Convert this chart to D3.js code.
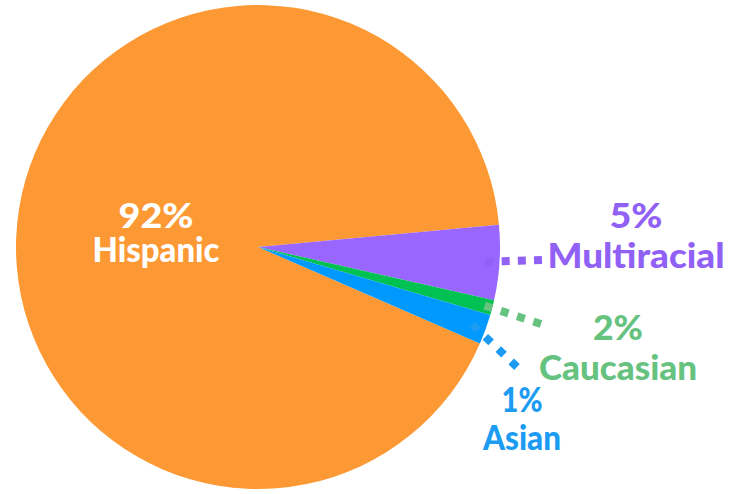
<!DOCTYPE html>
<html>
<head>
<meta charset="utf-8">
<script src="https://cdn.jsdelivr.net/npm/d3@7"></script>
<style>
  html, body { margin: 0; padding: 0; background: #fff; }
  svg { display: block; }
  text { font-family: "Lato", "Open Sans", sans-serif; font-weight: 900; }
</style>
</head>
<body>
<svg id="chart" width="732" height="494"></svg>
<script>
// ---- data ----
const categories = ["Hispanic", "Multiracial", "Caucasian", "Asian"];
const values = [92, 5, 1, 2];              // slice sizes as drawn
const labelPercents = ["92%", "5%", "2%", "1%"]; // label text as printed
const sliceColors = ["#fd9934", "#9966ff", "#00c152", "#0099ff"];
const textColors = ["#ffffff", "#9161f5", "#66c27f", "#1b9cf2"];

// ---- layout ----
const cx = 258, cy = 247, R = 242;
const startDeg = 113.5;

const svg = d3.select("#chart");
const g = svg.append("g").attr("transform", `translate(${cx},${cy})`);

const pie = d3.pie().sort(null).value(d => d)
  .startAngle(startDeg * Math.PI / 180)
  .endAngle(startDeg * Math.PI / 180 + 2 * Math.PI);
const arcs = pie(values);
const arc = d3.arc().innerRadius(0).outerRadius(R);

g.selectAll("path.slice").data(arcs).enter().append("path")
  .attr("class", "slice")
  .attr("d", arc)
  .attr("fill", (d, i) => sliceColors[i]);

// leader lines
const leaderEnd = [null, [542, 260], [541, 324], [517, 367]];
const leaderR = [0, 228, 234, 228];
const dash = 8;
arcs.forEach((d, i) => {
  if (!leaderEnd[i]) return;
  const a = (d.startAngle + d.endAngle) / 2;
  const x0 = cx + leaderR[i] * Math.sin(a), y0 = cy - leaderR[i] * Math.cos(a);
  const x1 = leaderEnd[i][0], y1 = leaderEnd[i][1];
  const L = Math.hypot(x1 - x0, y1 - y0);
  const n = Math.max(2, Math.round((L + 7.5) / (dash + 7.5)));
  const gap = (L - n * dash) / (n - 1);
  svg.append("line")
    .attr("x1", x0).attr("y1", y0)
    .attr("x2", x1).attr("y2", y1)
    .attr("stroke", textColors[i])
    .attr("stroke-width", 8)
    .attr("stroke-dasharray", `${dash},${gap}`);
});

// labels: [x, y of percent, y of name, width of percent, width of name]
const labelPos = [
  [156, 228, 262, 75, 127],
  [636, 228, 268, 53, 177],
  [618, 340, 380, 50, 158],
  [522, 412, 450, 41, 78]
];
const fontSize = 35;
categories.forEach((c, i) => {
  const [x, y1, y2, w1, w2] = labelPos[i];
  svg.append("text").attr("x", x).attr("y", y1)
    .attr("text-anchor", "middle").attr("font-size", fontSize)
    .attr("textLength", w1).attr("lengthAdjust", "spacingAndGlyphs")
    .attr("fill", textColors[i]).text(labelPercents[i]);
  svg.append("text").attr("x", x).attr("y", y2)
    .attr("text-anchor", "middle").attr("font-size", fontSize)
    .attr("textLength", w2).attr("lengthAdjust", "spacingAndGlyphs")
    .attr("fill", textColors[i]).text(c);
});
</script>
</body>
</html>
